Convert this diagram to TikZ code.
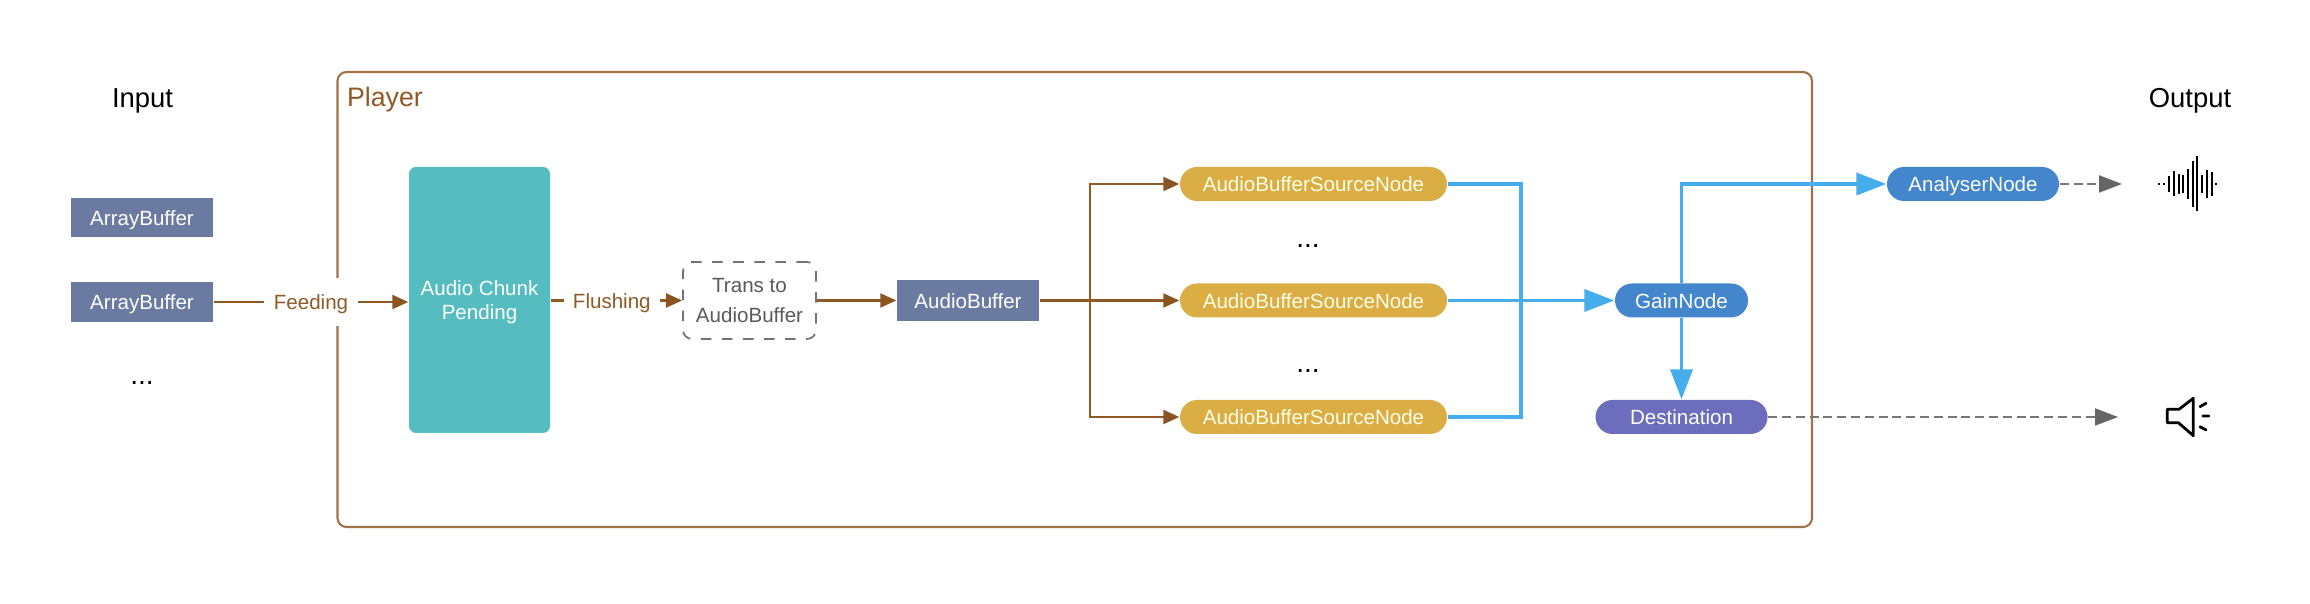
\documentclass[tikz,border=0pt]{standalone}
\usepackage{fontspec}
\setmainfont{Liberation Sans}
\usetikzlibrary{arrows.meta, positioning, calc}
\definecolor{brownline}{HTML}{8F5A26}
\definecolor{brownhead}{HTML}{8A5520}
\definecolor{slatebox}{HTML}{6B7AA1}
\definecolor{tealbox}{HTML}{55BCBF}
\definecolor{goldbox}{HTML}{DAAD45}
\definecolor{bluebox}{HTML}{4386CB}
\definecolor{violetbox}{HTML}{6C6DBD}
\definecolor{blueline}{HTML}{45ADEC}
\definecolor{greyline}{HTML}{777777}

\begin{document}
\begin{tikzpicture}[
  txt/.style={font=\fontsize{5.85}{6.9}\selectfont, align=center, inner sep=0pt},
  oneline/.style={txt, text height=0.16cm, text depth=0pt},
  bufbox/.style={oneline, fill=slatebox, text=white, minimum width=1.42cm, minimum height=0.395cm},
  srcnode/.style={oneline, fill=goldbox, text=white!90!yellow, rounded corners=0.17cm, minimum width=2.67cm, minimum height=0.34cm},
  pill/.style={oneline, text=white, rounded corners=0.17cm, minimum height=0.34cm},
  lbl/.style={oneline, fill=white, text=brownline, minimum height=0.48cm},
  dots/.style={txt, font=\fontsize{8}{8}\selectfont},
  head/.style={font=\fontsize{7.8}{9}\selectfont, inner sep=0pt},
  brownarrow/.style={draw=brownline, line width=0.6pt, -{Triangle[length=0.16cm, width=0.14cm, color=brownhead]}},
  bluearrow/.style={draw=blueline, line width=1.1pt, -{Triangle[length=0.3cm, width=0.22cm]}},
  greyarrow/.style={draw=greyline, line width=0.55pt, dash pattern=on 0.09cm off 0.048cm, -{Triangle[length=0.23cm, width=0.17cm, color=black!60]}}
]
  \useasboundingbox (0,0) rectangle (23.1,6.04);

  % Player frame
  \draw[brownline!85, line width=0.6pt, rounded corners=0.09cm] (3.375,0.77) rectangle (18.12,5.32);
  \node[head, text=brownline, font=\fontsize{7.6}{9}\selectfont] (playerlbl) at (3.85,5.04) {Player};

  % Input column
  \node[head] (inputlbl) at (1.425,5.03) {Input};
  \node[bufbox] (buf1) at (1.42,3.865) {ArrayBuffer};
  \node[bufbox] (buf2) at (1.42,3.02) {ArrayBuffer};
  \node[dots] (inputdots) at (1.42,2.21) {...};

  % Pending and transform
  \node[txt, fill=tealbox, text=white, text depth=0pt, rounded corners=0.07cm, minimum width=1.41cm, minimum height=2.66cm] (chunk) at (4.795,3.04) {Audio Chunk\\Pending};
  \node[txt, draw=black!55, dashed, line width=0.5pt, rounded corners=0.09cm, text=black!65,
    font=\fontsize{5.85}{8.3}\selectfont, minimum width=1.33cm, minimum height=0.77cm] (trans) at (7.495,3.035) {Trans to\\AudioBuffer};
  \node[bufbox, minimum height=0.41cm] (audiobuf) at (9.68,3.035) {AudioBuffer};

  % Source nodes
  \node[srcnode] (src1) at (13.135,4.2) {AudioBufferSourceNode};
  \node[srcnode] (src2) at (13.135,3.035) {AudioBufferSourceNode};
  \node[srcnode] (src3) at (13.135,1.87) {AudioBufferSourceNode};
  \node[dots] (srcdots1) at (13.08,3.58) {...};
  \node[dots] (srcdots2) at (13.08,2.33) {...};

  % Web audio nodes
  \node[pill, fill=bluebox, minimum width=1.33cm] (gain) at (16.815,3.035) {GainNode};
  \node[pill, fill=violetbox, minimum width=1.72cm] (dest) at (16.815,1.87) {Destination};
  \node[pill, fill=bluebox, minimum width=1.72cm] (analyser) at (19.73,4.2) {AnalyserNode};

  % Output column
  \node[head] (outputlbl) at (21.9,5.03) {Output};
  \coordinate (wave) at (21.88,4.2);
  \coordinate (wavetip) at (21.22,4.2);
  \coordinate (speakertip) at (21.18,1.87);
  \coordinate (split) at (10.9,3.035);
  \coordinate (bus) at (15.21,1.87);

  % Brown flow
  \draw[brownarrow] (buf2) -- node[lbl, minimum width=0.94cm] (feeding) {Feeding} (chunk.west |- buf2);
  \draw[brownarrow] (chunk.east |- trans) -- node[lbl, minimum width=0.96cm, pos=0.465] (flushing) {Flushing} (trans);
  \draw[brownarrow] (trans) -- (audiobuf);
  \draw[brownarrow] (audiobuf) -- (src2);
  \draw[brownarrow] (split) |- (src1);
  \draw[brownarrow] (split) |- (src3);

  % Blue flow
  \draw[bluearrow] (src2) -- (gain);
  \draw[draw=blueline, line width=1.1pt] (src1) -| (bus) -- (src3);
  \draw[bluearrow] (gain) -- (dest);
  \draw[bluearrow] (gain) |- (analyser);

  % Dashed outputs
  \draw[greyarrow] (analyser) -- (wavetip);
  \draw[greyarrow] (dest) -- (speakertip);

  % Wave icon
  \foreach \dx/\hgt in {-0.287/0.008, -0.237/0.008, -0.19/0.08, -0.14/0.125, -0.09/0.1, -0.047/0.09, 0/0.15, 0.047/0.23, 0.093/0.275, 0.143/0.09, 0.19/0.14, 0.237/0.12, 0.283/0.008}
    \draw[line width=0.62pt] ($(wave)+(\dx,-\hgt)$) -- ($(wave)+(\dx,\hgt)$);

  % Speaker icon
  \draw[line width=0.8pt, line join=round] (21.673,1.947) -- (21.79,1.947) -- (21.933,2.057)
    -- (21.933,1.683) -- (21.783,1.813) -- (21.673,1.813) -- cycle;
  \draw[line width=0.8pt, line cap=round] (22,1.973) -- (22.06,2.007) (22.027,1.88) -- (22.09,1.88)
    (22,1.773) -- (22.06,1.74);
\end{tikzpicture}
\end{document}
